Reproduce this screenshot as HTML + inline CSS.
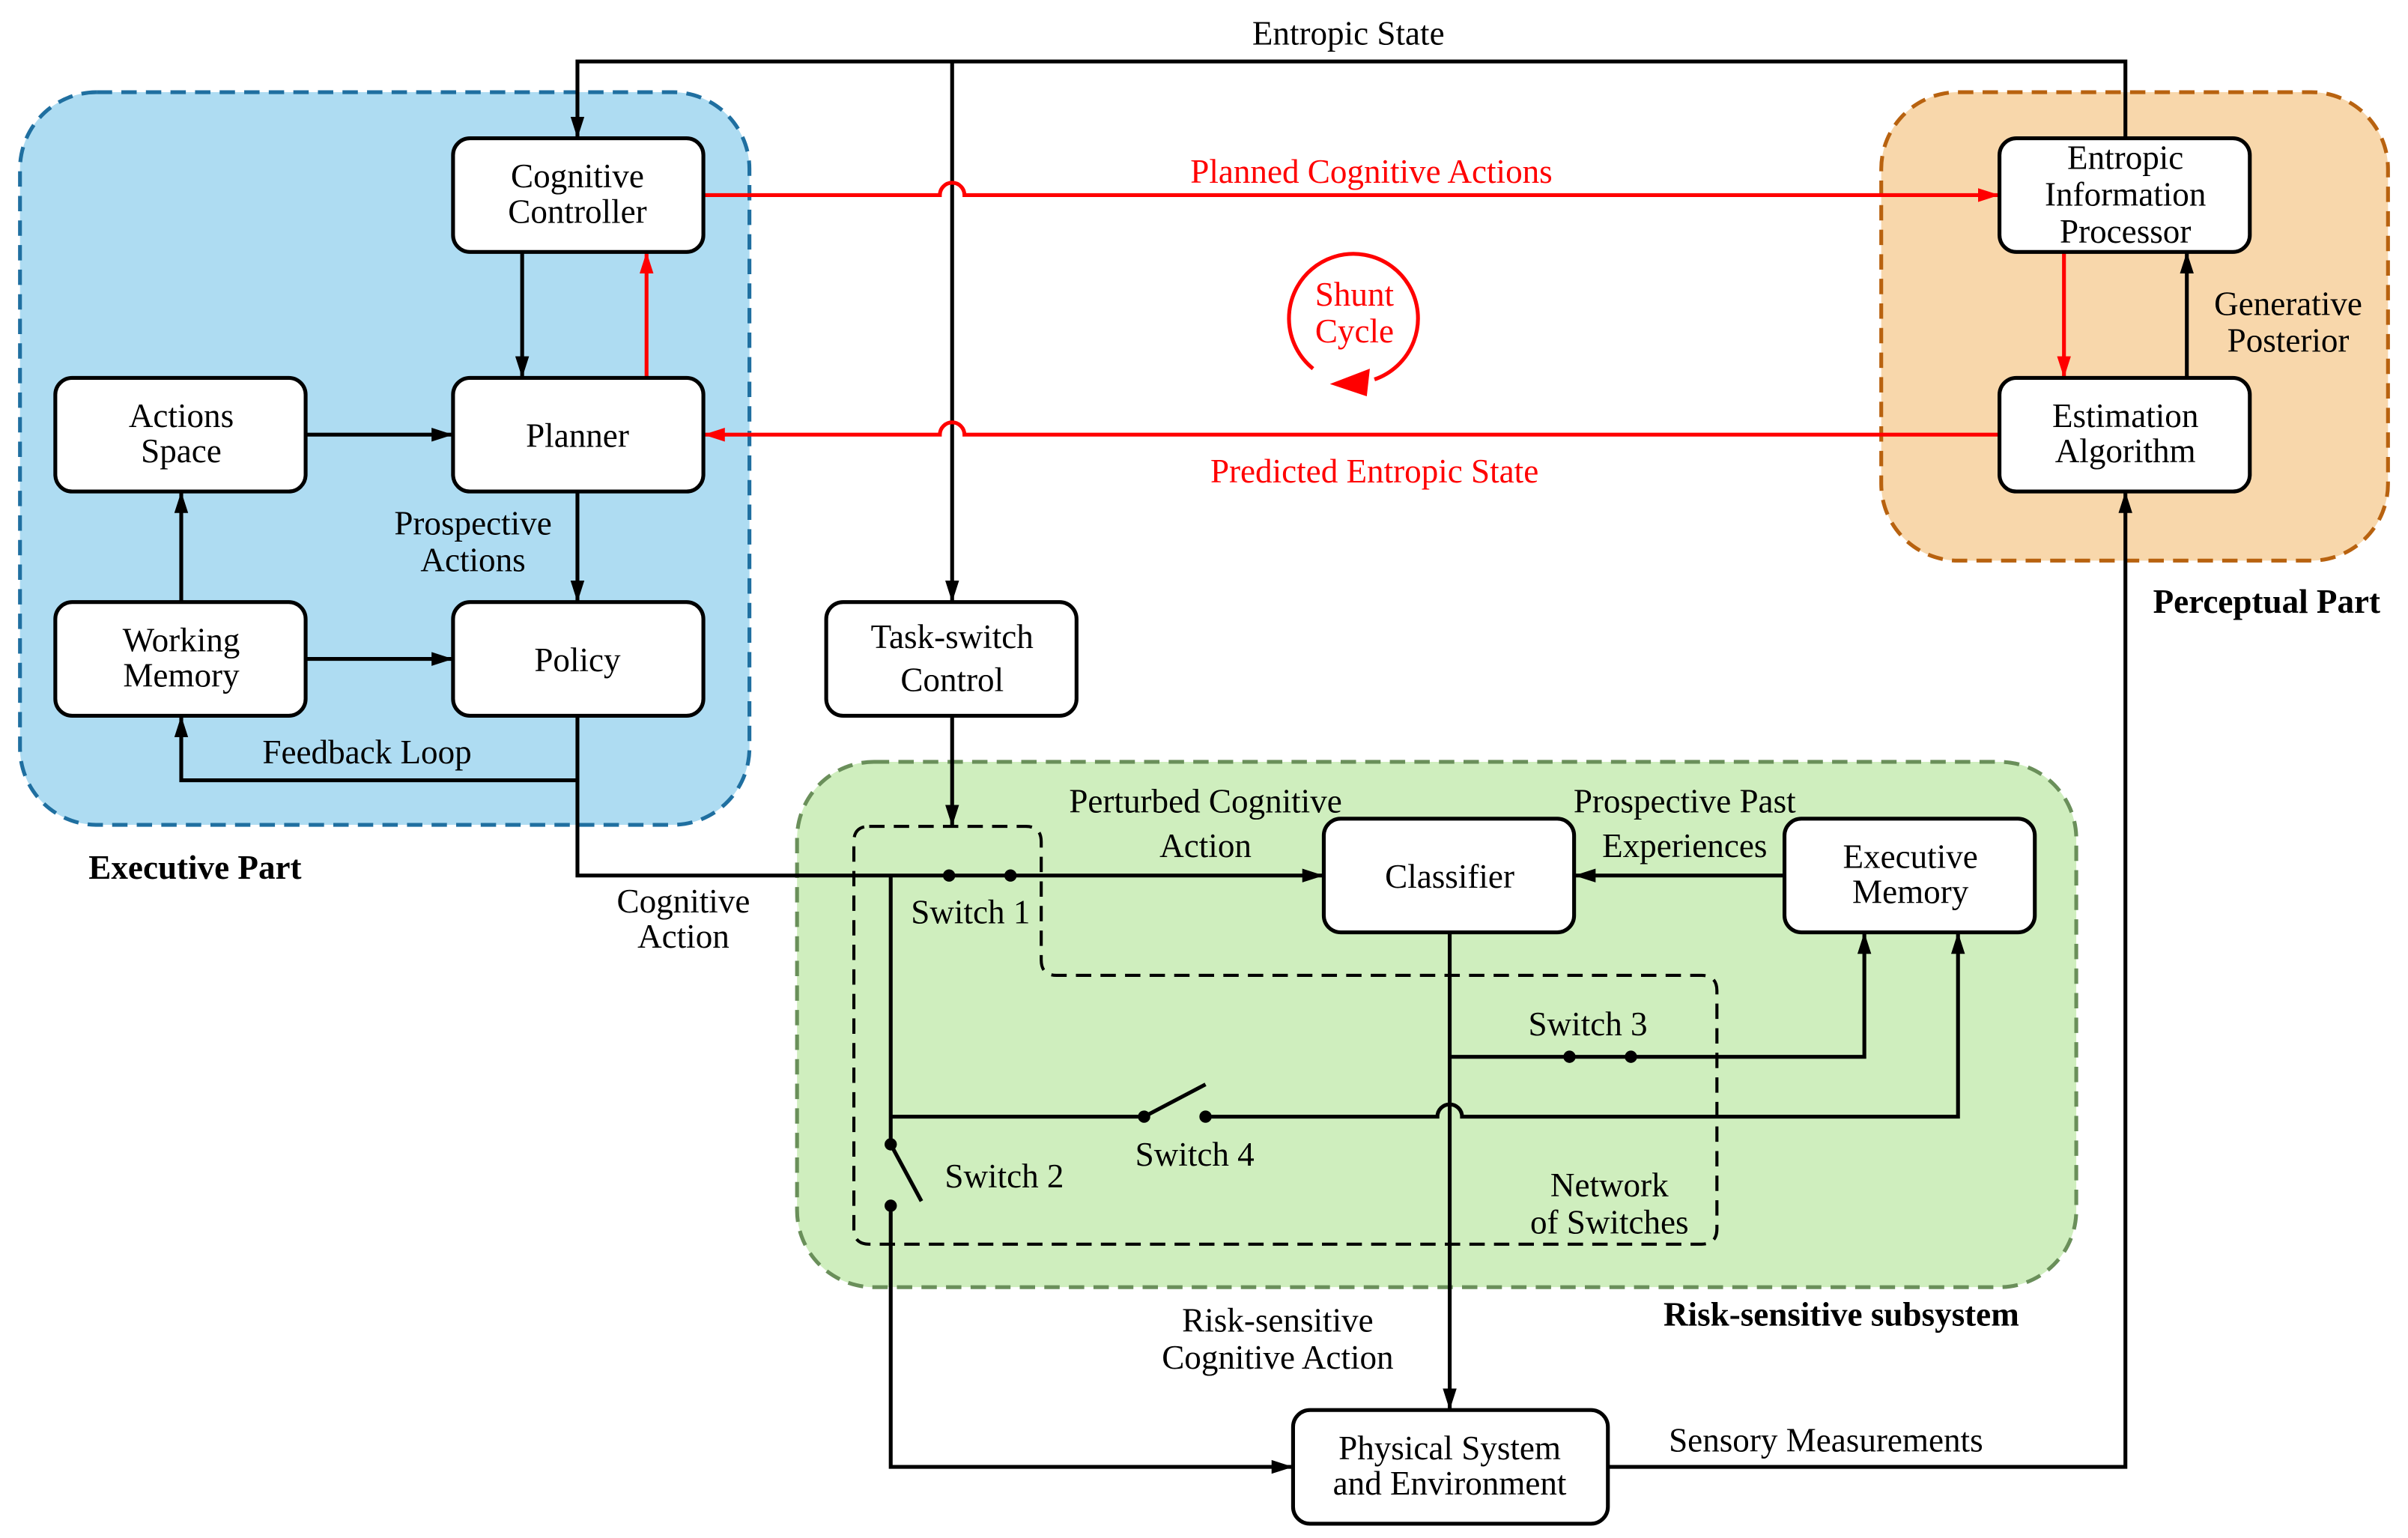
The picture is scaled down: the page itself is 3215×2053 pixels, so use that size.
<!DOCTYPE html>
<html><head><meta charset="utf-8"><style>
html,body{margin:0;padding:0;background:#fff;}
svg{display:block;}
text{font-family:"Liberation Serif",serif;font-size:22px;text-anchor:middle;fill:#000;}
.b{font-weight:bold;}
.r{fill:#ff0000;}
.box{fill:#fff;stroke:#000;stroke-width:2.5;}
.l{fill:none;stroke:#000;stroke-width:2.5;}
.rl{fill:none;stroke:#ff0000;stroke-width:2.5;}
</style></head><body>
<svg width="3215" height="2053" viewBox="0 0 1568 1001.3" xmlns="http://www.w3.org/2000/svg">
<defs>
<marker id="a" viewBox="0 0 14 10" refX="14" refY="5" markerWidth="14" markerHeight="10" markerUnits="userSpaceOnUse" orient="auto"><path d="M0,0.5 L14,5 L0,9.5 z" fill="#000"/></marker>
<marker id="ar" viewBox="0 0 14 10" refX="14" refY="5" markerWidth="14" markerHeight="10" markerUnits="userSpaceOnUse" orient="auto"><path d="M0,0.5 L14,5 L0,9.5 z" fill="#f00"/></marker>
</defs>
<rect x="13" y="60" width="475" height="477" rx="50" fill="#aedcf2" stroke="#1f6fa0" stroke-width="2.5" stroke-dasharray="10,6"/>
<rect x="1225" y="60" width="330" height="305" rx="50" fill="#f8d7ab" stroke="#b8620f" stroke-width="2.5" stroke-dasharray="10,6"/>
<rect x="519" y="496" width="833" height="342" rx="50" fill="#cfeebe" stroke="#6a8f5a" stroke-width="2.5" stroke-dasharray="10,6"/>
<path d="M566,538 H668 Q678,538 678,548 V625 Q678,635 688,635 H1108 Q1118,635 1118,645 V800 Q1118,810 1108,810 H566 Q556,810 556,800 V548 Q556,538 566,538 Z" fill="none" stroke="#000" stroke-width="2" stroke-dasharray="10,6"/>

<path class="l" d="M1384,90 V40 H376 V90" marker-end="url(#a)"/>
<path class="l" d="M620,40 V392" marker-end="url(#a)"/>
<path class="rl" d="M458,127 H612 A8,8 0 0 1 628,127 H1302" marker-end="url(#ar)"/>
<path class="rl" d="M1302,283 H628 A8,8 0 0 0 612,283 H458" marker-end="url(#ar)"/>
<path class="l" d="M340,164 V246" marker-end="url(#a)"/>
<path class="rl" d="M421,246 V164" marker-end="url(#ar)"/>
<path class="l" d="M199,283 H295" marker-end="url(#a)"/>
<path class="l" d="M118,392 V320" marker-end="url(#a)"/>
<path class="l" d="M199,429 H295" marker-end="url(#a)"/>
<path class="l" d="M376,320 V392" marker-end="url(#a)"/>
<path class="l" d="M376,466 V508 H118 V466" marker-end="url(#a)"/>
<path class="l" d="M376,508 V570 H862" marker-end="url(#a)"/>
<path class="l" d="M1424,246 V164" marker-end="url(#a)"/>
<path class="rl" d="M1344,164 V246" marker-end="url(#ar)"/>
<path class="l" d="M620,466 V538" marker-end="url(#a)"/>
<path class="l" d="M1162,570 H1025" marker-end="url(#a)"/>
<path class="l" d="M580,570 V745"/>
<path class="l" d="M580,745 L600,782"/>
<path class="l" d="M580,785 V955 H842" marker-end="url(#a)"/>
<path class="l" d="M580,727 H745 M745,727 L785,706 M785,727 H936 A8,8 0 0 1 952,727 H1275 V607" marker-end="url(#a)"/>
<path class="l" d="M944,607 V918" marker-end="url(#a)"/>
<path class="l" d="M944,688 H1214 V607" marker-end="url(#a)"/>
<path class="l" d="M1047,955 H1384 V320" marker-end="url(#a)"/>
<g fill="#000">
<circle cx="618" cy="570" r="4"/><circle cx="658" cy="570" r="4"/>
<circle cx="580" cy="745" r="4"/><circle cx="580" cy="785" r="4"/>
<circle cx="745" cy="727" r="4"/><circle cx="785" cy="727" r="4"/>
<circle cx="1022" cy="688" r="4"/><circle cx="1062" cy="688" r="4"/>
</g>
<path d="M895,247 A42,42 0 1 0 855,240" fill="none" stroke="#f00" stroke-width="2.5"/>
<path d="M866,250 L892,240 L890,258 z" fill="#f00"/>
<text class="r" x="882" y="199">Shunt</text>
<text class="r" x="882" y="223">Cycle</text>

<rect class="box" x="295" y="90" width="163" height="74" rx="11"/>
<rect class="box" x="36" y="246" width="163" height="74" rx="11"/>
<rect class="box" x="295" y="246" width="163" height="74" rx="11"/>
<rect class="box" x="36" y="392" width="163" height="74" rx="11"/>
<rect class="box" x="295" y="392" width="163" height="74" rx="11"/>
<rect class="box" x="538" y="392" width="163" height="74" rx="11"/>
<rect class="box" x="1302" y="90" width="163" height="74" rx="11"/>
<rect class="box" x="1302" y="246" width="163" height="74" rx="11"/>
<rect class="box" x="862" y="533" width="163" height="74" rx="11"/>
<rect class="box" x="1162" y="533" width="163" height="74" rx="11"/>
<rect class="box" x="842" y="918" width="205" height="74" rx="11"/>

<text x="376" y="122">Cognitive</text><text x="376" y="145">Controller</text>
<text x="118" y="278">Actions</text><text x="118" y="301">Space</text>
<text x="376" y="291">Planner</text>
<text x="118" y="424">Working</text><text x="118" y="447">Memory</text>
<text x="376" y="437">Policy</text>
<text x="620" y="422">Task-switch</text><text x="620" y="450">Control</text>
<text x="1384" y="110">Entropic</text><text x="1384" y="134">Information</text><text x="1384" y="158">Processor</text>
<text x="1384" y="278">Estimation</text><text x="1384" y="301">Algorithm</text>
<text x="944" y="578">Classifier</text>
<text x="1244" y="565">Executive</text><text x="1244" y="588">Memory</text>
<text x="944" y="950">Physical System</text><text x="944" y="973">and Environment</text>

<text x="878" y="29">Entropic State</text>
<text class="r" x="893" y="119">Planned Cognitive Actions</text>
<text class="r" x="895" y="314">Predicted Entropic State</text>
<text x="1490" y="205">Generative</text><text x="1490" y="229">Posterior</text>
<text x="308" y="348">Prospective</text><text x="308" y="372">Actions</text>
<text x="239" y="497">Feedback Loop</text>
<text x="445" y="594">Cognitive</text><text x="445" y="617">Action</text>
<text x="785" y="529">Perturbed Cognitive</text><text x="785" y="558">Action</text>
<text x="1097" y="529">Prospective Past</text><text x="1097" y="558">Experiences</text>
<text x="632" y="601">Switch 1</text>
<text x="1034" y="674">Switch 3</text>
<text x="778" y="759">Switch 4</text>
<text x="654" y="773">Switch 2</text>
<text x="1048" y="779">Network</text><text x="1048" y="803">of Switches</text>
<text x="832" y="867">Risk-sensitive</text><text x="832" y="891">Cognitive Action</text>
<text x="1189" y="945">Sensory Measurements</text>
<text class="b" x="127" y="572">Executive Part</text>
<text class="b" x="1476" y="399">Perceptual Part</text>
<text class="b" x="1199" y="863">Risk-sensitive subsystem</text>
</svg>
</body></html>
